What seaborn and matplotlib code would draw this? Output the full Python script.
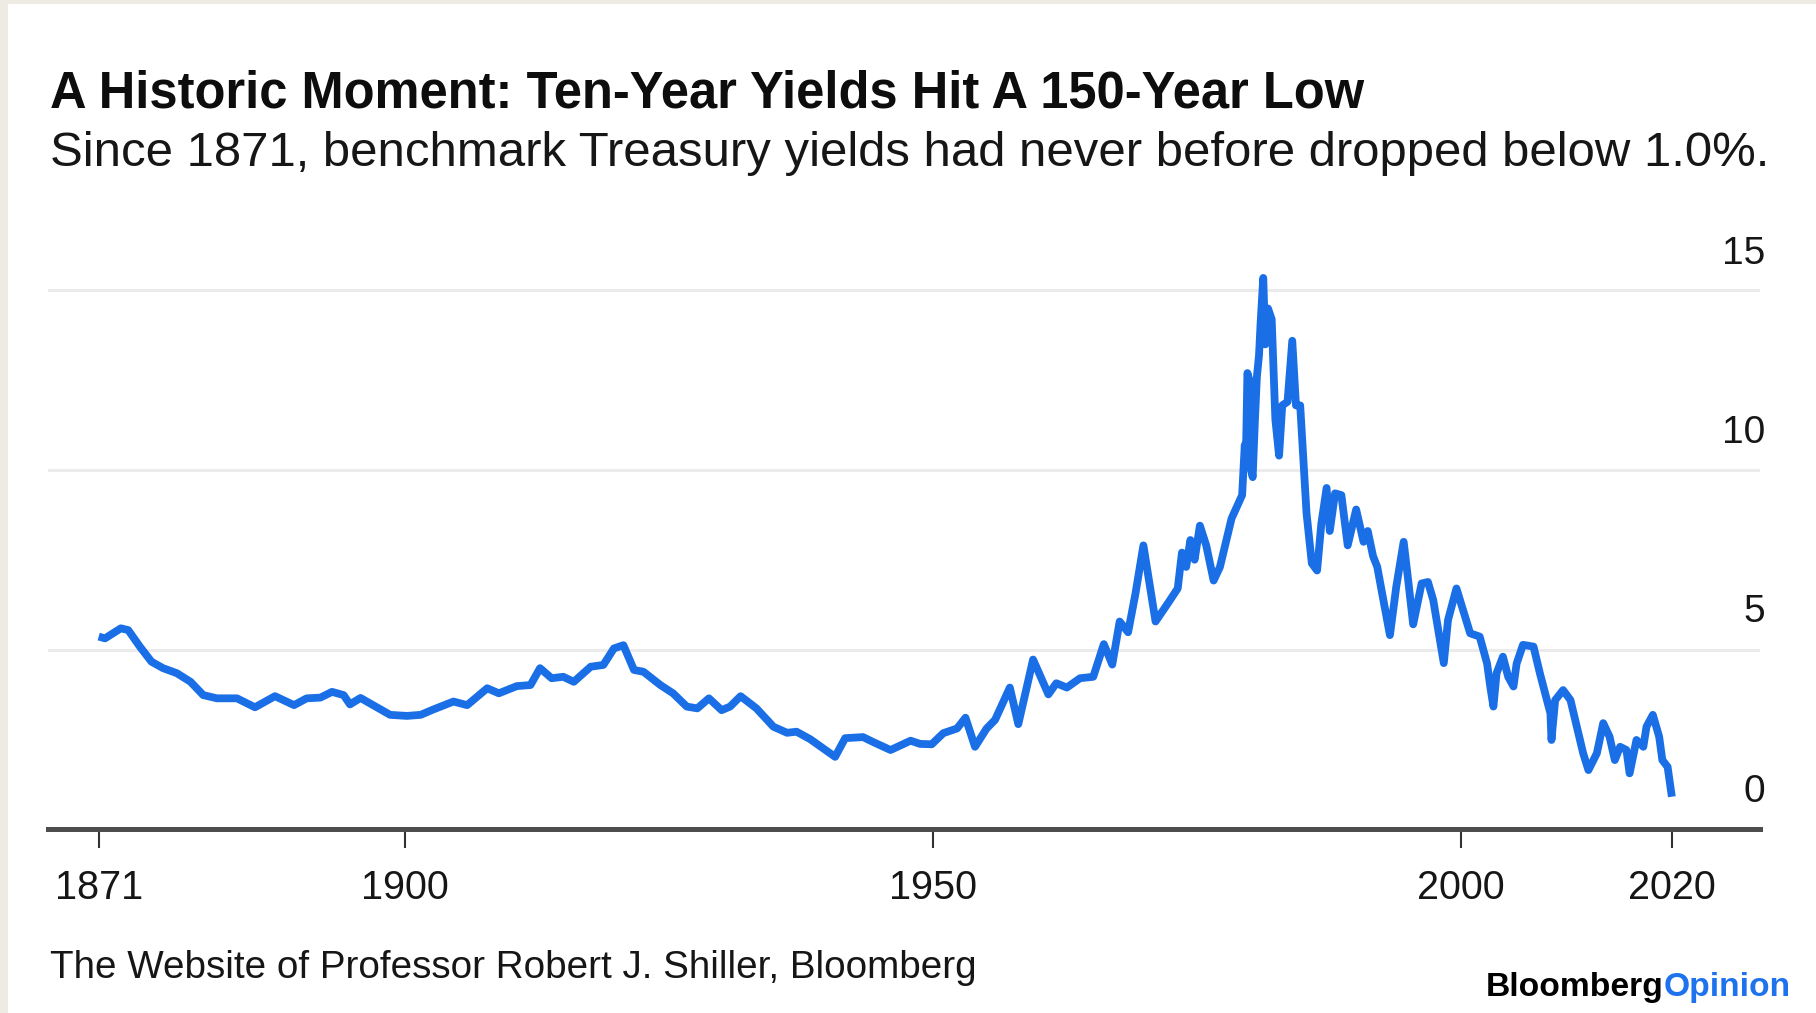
import matplotlib
matplotlib.use("Agg")
import matplotlib.pyplot as plt
import matplotlib.transforms as mtransforms
from matplotlib.patches import Rectangle
import pandas as pd
import seaborn as sns

# Ten-year Treasury yield (%), 1871-2020
years = [
    1871.0, 1871.6, 1873.1, 1873.8, 1874.9, 1876.0, 1877.1, 1878.4, 1879.7, 1880.9,
    1882.2, 1884.1, 1885.8, 1887.7, 1889.5, 1890.7, 1892.0, 1893.1, 1894.2, 1894.8,
    1895.8, 1897.0, 1898.6, 1900.2, 1901.5, 1902.7, 1904.6, 1905.9, 1907.8, 1908.9,
    1910.6, 1911.9, 1912.8, 1913.9, 1915.0, 1916.0, 1917.6, 1918.8, 1919.8, 1920.7,
    1921.7, 1922.6, 1924.2, 1925.4, 1926.7, 1927.7, 1928.8, 1930.0, 1930.8, 1931.8,
    1933.3, 1934.9, 1936.2, 1937.1, 1938.4, 1939.6, 1940.75, 1941.7, 1943.4, 1944.3,
    1946.0, 1947.9, 1948.8, 1949.9, 1951.0, 1952.3, 1953.1, 1954.0, 1955.1, 1955.9,
    1957.3, 1958.1, 1959.5, 1960.95, 1961.7, 1962.7, 1963.95, 1965.2, 1966.2, 1967.0,
    1967.7, 1968.5, 1969.2, 1969.95, 1971.1, 1972.3, 1973.2, 1973.6, 1974.0, 1974.4,
    1974.8, 1975.3, 1975.9, 1976.6, 1977.2, 1978.3, 1979.0, 1979.3, 1979.55, 1979.65,
    1979.8, 1980.0, 1980.15, 1980.3, 1980.5, 1980.7, 1980.9, 1981.05, 1981.3, 1981.5,
    1981.75, 1982.1, 1982.45, 1982.8, 1983.1, 1983.6, 1984.05, 1984.4, 1984.8, 1985.1,
    1985.4, 1985.9, 1986.4, 1986.8, 1987.3, 1987.6, 1988.1, 1988.7, 1989.3, 1990.1,
    1990.8, 1991.2, 1991.7, 1992.1, 1992.6, 1993.3, 1993.9, 1994.6, 1995.0, 1995.5,
    1996.3, 1996.9, 1997.4, 1998.4, 1998.8, 1999.6, 2000.9, 2001.8, 2002.5, 2002.8,
    2003.1, 2003.4, 2004.0, 2004.5, 2005.0, 2005.3, 2005.9, 2006.9, 2007.5, 2008.0,
    2008.5, 2008.6, 2008.95, 2009.7, 2010.4, 2011.0, 2011.6, 2012.1, 2012.9, 2013.5,
    2014.1, 2014.6, 2015.1, 2015.7, 2016.0, 2016.65, 2017.3, 2017.6, 2018.2, 2018.8,
    2019.1, 2019.6, 2020.0,
]
yields = [
    5.36, 5.31, 5.59, 5.54, 5.08, 4.66, 4.48, 4.34, 4.10, 3.73,
    3.64, 3.64, 3.39, 3.70, 3.45, 3.64, 3.66, 3.82, 3.73, 3.47,
    3.65, 3.45, 3.18, 3.15, 3.18, 3.33, 3.55, 3.45, 3.92, 3.78,
    3.98, 4.01, 4.48, 4.20, 4.24, 4.10, 4.52, 4.57, 5.03, 5.12,
    4.43, 4.38, 4.01, 3.78, 3.41, 3.36, 3.64, 3.31, 3.41, 3.70,
    3.36, 2.85, 2.68, 2.71, 2.50, 2.25, 2.01, 2.53, 2.56, 2.43,
    2.20, 2.46, 2.37, 2.36, 2.67, 2.80, 3.10, 2.29, 2.80, 3.04,
    3.94, 2.92, 4.72, 3.75, 4.06, 3.94, 4.20, 4.24, 5.15, 4.58,
    5.78, 5.48, 6.56, 7.90, 5.78, 6.30, 6.70, 7.70, 7.30, 8.05,
    7.50, 8.45, 7.90, 6.92, 7.30, 8.65, 9.10, 9.30, 10.70, 10.20,
    12.70, 12.50, 10.00, 9.80, 11.30, 12.60, 13.20, 14.10, 15.35, 13.50,
    14.50, 14.20, 11.40, 10.40, 11.80, 11.90, 13.60, 11.80, 11.80, 10.30,
    8.80, 7.40, 7.20, 8.50, 9.50, 8.30, 9.35, 9.30, 7.90, 8.90,
    8.00, 8.30, 7.60, 7.30, 6.50, 5.40, 6.75, 8.00, 7.00, 5.70,
    6.84, 6.88, 6.38, 4.62, 5.82, 6.70, 5.45, 5.36, 4.61, 3.97,
    3.41, 4.34, 4.80, 4.24, 3.97, 4.61, 5.13, 5.08, 4.34, 3.78,
    3.22, 2.48, 3.59, 3.87, 3.59, 2.85, 2.11, 1.64, 2.11, 2.95,
    2.57, 1.92, 2.29, 2.20, 1.55, 2.48, 2.29, 2.85, 3.18, 2.57,
    1.92, 1.73, 0.90,
]

x_ticks = [1871, 1900, 1950, 2000, 2020]
x_tick_labels = ["1871", "1900", "1950", "2000", "2020"]
y_ticks = [0, 5, 10, 15]
y_tick_labels = ["0", "5", "10", "15"]

title = "A Historic Moment: Ten-Year Yields Hit A 150-Year Low"
subtitle = "Since 1871, benchmark Treasury yields had never before dropped below 1.0%."
source = "The Website of Professor Robert J. Shiller, Bloomberg"
brand_a, brand_b = "Bloomberg", "Opinion"

W, H, DPI = 1816, 1013, 100
LINE_BLUE = "#1a6fe6"
TEXT = "#161616"

sns.set_theme(style="white")
plt.rcParams["font.family"] = ["Liberation Sans", "DejaVu Sans"]

fig = plt.figure(figsize=(W / DPI, H / DPI), dpi=DPI, facecolor="#eeebe3")
# white card inside the thin beige frame (drawn beneath the axes)
fig.patches.append(Rectangle((8 / W, 0), 1 - 8 / W, 1 - 4 / H,
                             transform=fig.transFigure, facecolor="white",
                             edgecolor="none", zorder=-5))

# axes: x 48..1760 px, y 0 at 829 px, 16 at 254.6 px (from top)
ax = fig.add_axes([48 / W, (H - 829) / H, (1760 - 48) / W, (829 - 254.6) / H])
ax.set_facecolor("none")

df = pd.DataFrame({"year": years, "yield": yields})
sns.lineplot(data=df, x="year", y="yield", ax=ax, color=LINE_BLUE,
             linewidth=5.6, estimator=None, sort=False,
             solid_joinstyle="round", solid_capstyle="butt", zorder=3)

ax.set_xlim(1866.2, 2028.35)
ax.set_ylim(0, 16)
ax.set_xlabel("")
ax.set_ylabel("")

# horizontal grid
ax.set_yticks(y_ticks)
ax.yaxis.grid(True, color="#ebebeb", linewidth=2.2)
ax.xaxis.grid(False)
ax.tick_params(axis="y", length=0, labelleft=False, labelright=False)

for s in ["top", "left", "right"]:
    ax.spines[s].set_visible(False)
ax.spines["bottom"].set_color("#4d4d4d")
ax.spines["bottom"].set_linewidth(3.6)
ax.spines["bottom"].set_zorder(4)

ax.set_xticks(x_ticks)
ax.set_xticklabels(x_tick_labels, fontsize=28.5, color=TEXT)
ax.tick_params(axis="x", direction="out", length=13.5, width=1.5,
               color="#333333", pad=15, bottom=True)

# y labels sit above their gridlines, right-aligned to the axis end
lab_tf = mtransforms.blended_transform_factory(ax.transAxes, ax.transData) + \
    mtransforms.ScaledTranslation(5 / DPI, 37 / DPI, fig.dpi_scale_trans)
for v, s in zip(y_ticks, y_tick_labels):
    ax.text(1.0, v, s, transform=lab_tf, ha="right", va="center",
            fontsize=28, color=TEXT)


def fit_width(t, width_px):
    fig.canvas.draw()
    w = t.get_window_extent(fig.canvas.get_renderer()).width
    t.set_fontsize(t.get_fontsize() * width_px / w)


def px(x, y_top):
    return x / W, (H - y_top) / H


t_title = fig.text(*px(50, 107), title, fontsize=30, fontweight="bold",
                   color="#0d0d0d", ha="left", va="baseline")
fit_width(t_title, 1314)

t_sub = fig.text(*px(50, 166), subtitle, fontsize=30, color=TEXT,
                 ha="left", va="baseline")
fit_width(t_sub, 1721)

t_src = fig.text(*px(50, 978), source, fontsize=22, color=TEXT,
                 ha="left", va="baseline")
fit_width(t_src, 922)

t_b1 = fig.text(*px(1486, 996), brand_a, fontsize=20, fontweight="bold",
                color="#000000", ha="left", va="baseline")
fit_width(t_b1, 177)
fig.canvas.draw()
bb = t_b1.get_window_extent(fig.canvas.get_renderer())
t_b2 = fig.text(bb.x1 / W, (H - 996) / H, brand_b,
                fontsize=t_b1.get_fontsize(), fontweight="bold",
                color="#1f72ee", ha="left", va="baseline")

fig.savefig("out.png", dpi=DPI, facecolor=fig.get_facecolor())
